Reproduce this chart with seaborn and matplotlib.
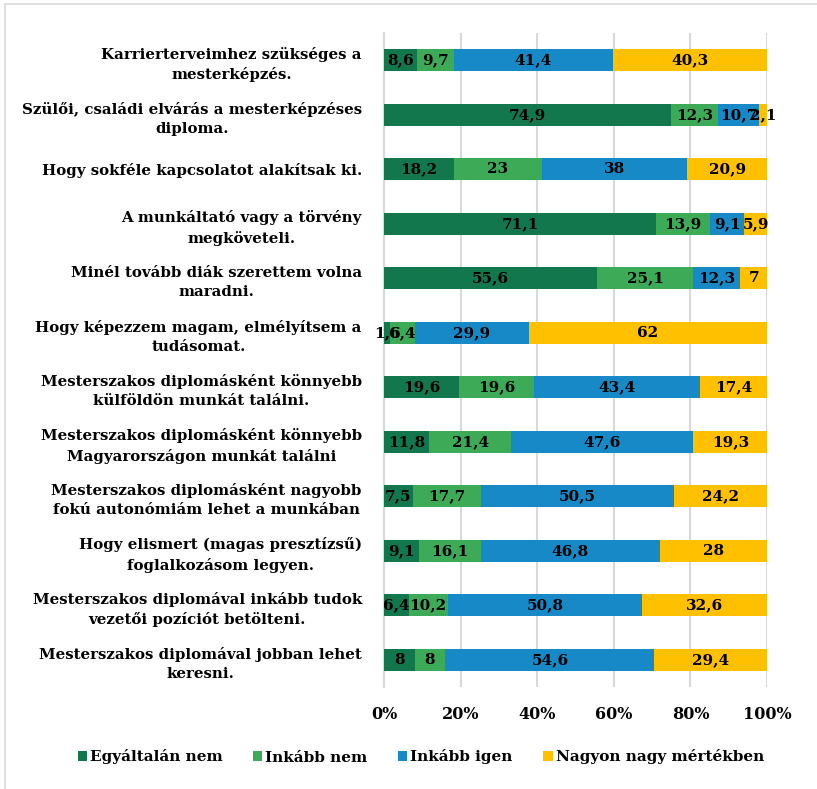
import numpy as np
import matplotlib
matplotlib.use("Agg")
import matplotlib.pyplot as plt
import seaborn as sns
from matplotlib.patches import Rectangle

# Data
categories = [
    "Karrierterveimhez szükséges a\nmesterképzés.",
    "Szülői, családi elvárás a mesterképzéses\ndiploma.",
    "Hogy sokféle kapcsolatot alakítsak ki.",
    "A munkáltató vagy a törvény\nmegköveteli.",
    "Minél tovább diák szerettem volna\nmaradni.",
    "Hogy képezzem magam, elmélyítsem a\ntudásomat.",
    "Mesterszakos diplomásként könnyebb\nkülföldön munkát találni.",
    "Mesterszakos diplomásként könnyebb\nMagyarországon munkát találni",
    "Mesterszakos diplomásként nagyobb\nfokú autonómiám lehet a munkában",
    "Hogy elismert (magas presztízsű)\nfoglalkozásom legyen.",
    "Mesterszakos diplomával inkább tudok\nvezetői pozíciót betölteni.",
    "Mesterszakos diplomával jobban lehet\nkeresni.",
]
series_names = ["Egyáltalán nem", "Inkább nem", "Inkább igen", "Nagyon nagy mértékben"]
egyaltalan_nem = [8.6, 74.9, 18.2, 71.1, 55.6, 1.6, 19.6, 11.8, 7.5, 9.1, 6.4, 8]
inkabb_nem = [9.7, 12.3, 23, 13.9, 25.1, 6.4, 19.6, 21.4, 17.7, 16.1, 10.2, 8]
inkabb_igen = [41.4, 10.7, 38, 9.1, 12.3, 29.9, 43.4, 47.6, 50.5, 46.8, 50.8, 54.6]
nagyon_nagy = [40.3, 2.1, 20.9, 5.9, 7, 62, 17.4, 19.3, 24.2, 28, 32.6, 29.4]
colors = ["#12774D", "#3DAA58", "#1689C6", "#FFC000"]
x_ticks = [0, 20, 40, 60, 80, 100]

sns.set_theme(style="white")
plt.rcParams["font.family"] = ["DejaVu Serif"]
plt.rcParams["font.weight"] = "bold"
plt.rcParams["text.color"] = "black"

series = np.array([egyaltalan_nem, inkabb_nem, inkabb_igen, nagyon_nagy])
cum = np.cumsum(series, axis=0)

fig = plt.figure(figsize=(8.17, 7.89), dpi=100)
ax = fig.add_axes([384 / 817, 1 - 687 / 789, (767 - 384) / 817, (687 - 33) / 789])

# stacked bars: draw cumulative totals from the largest down so each covers the next
for i in range(len(series_names) - 1, -1, -1):
    sns.barplot(x=cum[i], y=categories, orient="h", color=colors[i], width=0.4,
                linewidth=0, saturation=1, ax=ax, label=series_names[i], zorder=3)

# value labels in the centre of each segment
for i in range(len(series_names)):
    starts = cum[i] - series[i]
    for j, v in enumerate(series[i]):
        txt = f"{v:g}".replace(".", ",")
        ax.text(starts[j] + v / 2, j, txt, ha="center", va="center",
                fontsize=11, fontweight="bold", color="black", zorder=5)

ax.set_xlim(0, 100)
ax.set_ylim(len(categories) - 0.5, -0.5)
ax.set_xticks(x_ticks)
ax.set_xticklabels([f"{t}%" for t in x_ticks], fontsize=11.5, fontweight="bold",
                   color="black")
ax.tick_params(axis="x", length=0, pad=14)
ax.tick_params(axis="y", length=0, pad=16)
for lab in ax.get_yticklabels():
    lab.set_fontsize(10.8)
    lab.set_fontweight("bold")
    lab.set_color("black")
    lab.set_multialignment("center")
    lab.set_linespacing(1.45)
ax.set_xlabel("")
ax.set_ylabel("")
ax.grid(axis="x", color="#d9d9d9", linewidth=1.5, zorder=0)
for s in ["top", "right", "bottom"]:
    ax.spines[s].set_visible(False)
ax.spines["left"].set_color("#d9d9d9")
ax.spines["left"].set_linewidth(1.5)

# legend in series order (drop seaborn's axes legend)
handles, labels = ax.get_legend_handles_labels()
if ax.get_legend() is not None:
    ax.get_legend().remove()
order = [labels.index(n) for n in series_names]
fig.legend([handles[k] for k in order], [labels[k] for k in order],
           loc="center", bbox_to_anchor=(0.515, 1 - 757 / 789), ncol=4,
           frameon=False, fontsize=11, handlelength=0.6, handleheight=0.6,
           handletextpad=0.2, columnspacing=2.0)

# light frame around the chart area
fig.patches.append(Rectangle((5 / 817, -0.1), 1.2, 1 - 4 / 789 + 0.1,
                             transform=fig.transFigure, fill=False,
                             edgecolor="#d9d9d9", linewidth=1.2))

fig.savefig("out.png", dpi=100)
